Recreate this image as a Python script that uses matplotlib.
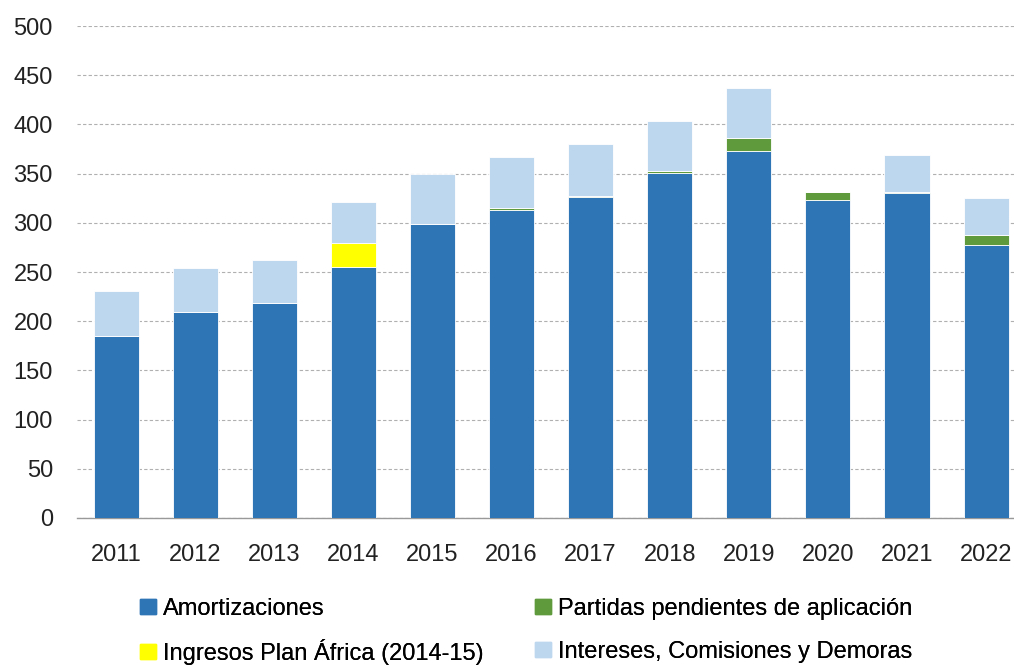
import matplotlib.pyplot as plt
import numpy as np
from matplotlib.patches import Patch

years = ['2011', '2012', '2013', '2014', '2015', '2016', '2017', '2018', '2019', '2020', '2021', '2022']
amortizaciones = [185, 209, 219, 255, 299, 313.5, 326, 351, 373, 323.5, 330, 277.5]
partidas = [0, 0, 0, 0, 0, 1.5, 1.5, 1.6, 13, 7.5, 1.3, 10.5]
plan_africa = [0, 0, 0, 24, 0, 0, 0, 0, 0, 0, 0, 0]
intereses = [46, 45.5, 43, 42, 51, 51.5, 52.5, 50.4, 51, 0, 37.7, 37]

c_amort = '#2e75b6'
c_part = '#5f9a3c'
c_africa = '#ffff00'
c_int = '#bdd7ee'

plt.rcParams['font.family'] = ['Liberation Sans', 'DejaVu Sans']

fig = plt.figure(figsize=(10.14, 6.67), dpi=100)
ax = fig.add_axes([0.0755, 0.2234, 0.936, 0.7376])

x = np.arange(len(years))
w = 0.57
amort = np.array(amortizaciones)
part = np.array(partidas)
afr = np.array(plan_africa)
inte = np.array(intereses)

kw = dict(width=w, edgecolor='white', linewidth=0.6, zorder=3)
ax.bar(x, amort, color=c_amort, **kw)
ax.bar(x, part, bottom=amort, color=c_part, **kw)
ax.bar(x, afr, bottom=amort + part, color=c_africa, **kw)
ax.bar(x, inte, bottom=amort + part + afr, color=c_int, **kw)

ax.set_xlim(-0.5, len(years) - 0.5)
ax.set_ylim(0, 500)
ax.set_yticks(range(0, 501, 50))
ax.set_xticks(x)
ax.set_xticklabels(years)
ax.tick_params(axis='both', length=0, labelsize=17, colors='#222222')
ax.tick_params(axis='y', pad=17)
ax.tick_params(axis='x', pad=19)
ax.yaxis.grid(True, color='#b0b0b0', linestyle=(0, (3, 2)), linewidth=0.8, zorder=0)
for s in ['top', 'right', 'left']:
    ax.spines[s].set_visible(False)
ax.spines['bottom'].set_color('#999999')
ax.spines['bottom'].set_linewidth(1.0)

# legend: one entry each, 2x2 grid placed by hand
entries = [
    (c_amort, 'Amortizaciones', 140, 609),
    (c_part, 'Partidas pendientes de aplicación', 535, 609),
    (c_africa, 'Ingresos Plan África (2014-15)', 140, 652),
    (c_int, 'Intereses, Comisiones y Demoras', 535, 652),
]
for col, lab, px, py in entries:
    leg = fig.legend([Patch(color=col)], [lab], loc='center left',
                     bbox_to_anchor=(px / 1014, 1 - py / 667), frameon=False,
                     fontsize=17, handlelength=0.68, handleheight=0.6,
                     handletextpad=0.3, borderpad=0, borderaxespad=0)
    fig.add_artist(leg)

fig.savefig('out.png', dpi=100)
